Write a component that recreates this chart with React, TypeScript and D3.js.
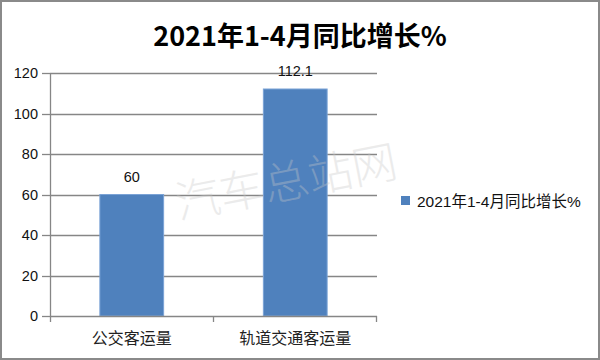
import React, { createRef, Component } from "react";
import * as d3 from "d3";

const categories: string[] = ["公交客运量", "轨道交通客运量"];
const values: number[] = [60, 112.1];
const yTicks: number[] = [0, 20, 40, 60, 80, 100, 120];
const seriesName = "2021年1-4月同比增长%";
const titleText = "2021年1-4月同比增长%";
const watermark = "汽车总站网";

const W = 600;
const H = 360;
const SANS = "'Liberation Sans', 'Noto Sans CJK SC', sans-serif";
const CJK = "'Noto Sans CJK SC', sans-serif";

class App extends Component<{}, {}> {
  ref: any;

  constructor(props: any) {
    super(props);
    this.ref = createRef();
  }

  componentDidMount() {
    const svg = d3.select(this.ref.current);
    svg.selectAll("*").remove();

    const x = d3.scaleBand<string>().domain(categories).range([50, 377]).paddingInner(0).paddingOuter(0);
    const y = d3.scaleLinear().domain([0, 120]).range([316, 73]);
    const barW = x.bandwidth() * 0.39;

    // background + frame
    svg.append("rect").attr("x", 0).attr("y", 0).attr("width", W).attr("height", H).attr("fill", "#fff");
    svg
      .append("rect")
      .attr("x", 1)
      .attr("y", 1)
      .attr("width", W - 2)
      .attr("height", H - 2)
      .attr("fill", "none")
      .attr("stroke", "#8a8a8a")
      .attr("stroke-width", 2);

    // title
    svg
      .append("text")
      .attr("x", 300)
      .attr("y", 46)
      .attr("text-anchor", "middle")
      .style("font-family", CJK)
      .style("font-weight", "bold")
      .style("font-size", "27px")
      .style("fill", "#000")
      .text(titleText);

    // gridlines
    const grid = svg.append("g");
    grid
      .selectAll("line")
      .data(yTicks.filter(t => t > 0))
      .enter()
      .append("line")
      .attr("x1", 50)
      .attr("x2", 377)
      .attr("y1", d => Math.round(y(d)) + 0.5)
      .attr("y2", d => Math.round(y(d)) + 0.5)
      .attr("stroke", "#868686")
      .attr("stroke-width", 1.3);

    // bars
    svg
      .append("g")
      .selectAll("rect")
      .data(values)
      .enter()
      .append("rect")
      .attr("x", (d, i) => (x(categories[i]) as number) + (x.bandwidth() - barW) / 2)
      .attr("y", d => y(d))
      .attr("width", barW)
      .attr("height", d => y(0) - y(d))
      .attr("fill", "#4f81bd")
      .attr("stroke", "#7ba3d6")
      .attr("stroke-width", 1);

    // value labels
    svg
      .append("g")
      .selectAll("text")
      .data(values)
      .enter()
      .append("text")
      .attr("x", (d, i) => (x(categories[i]) as number) + x.bandwidth() / 2)
      .attr("y", d => y(d) - 13)
      .attr("text-anchor", "middle")
      .style("font-family", SANS)
      .style("font-size", "14.5px")
      .style("fill", "#111")
      .text(d => String(d));

    // y axis
    const yAxis = svg.append("g");
    yAxis
      .append("line")
      .attr("x1", 50.5)
      .attr("x2", 50.5)
      .attr("y1", y(120))
      .attr("y2", y(0) + 6)
      .attr("stroke", "#868686")
      .attr("stroke-width", 1.3);
    yAxis
      .selectAll("line.tick")
      .data(yTicks)
      .enter()
      .append("line")
      .attr("class", "tick")
      .attr("x1", 42)
      .attr("x2", 50)
      .attr("y1", d => Math.round(y(d)) + 0.5)
      .attr("y2", d => Math.round(y(d)) + 0.5)
      .attr("stroke", "#868686")
      .attr("stroke-width", 1.3);
    yAxis
      .selectAll("text")
      .data(yTicks)
      .enter()
      .append("text")
      .attr("x", 38)
      .attr("y", d => y(d))
      .attr("dy", "0.36em")
      .attr("text-anchor", "end")
      .style("font-family", SANS)
      .style("font-size", "14.5px")
      .style("fill", "#111")
      .text(d => String(d));

    // x axis
    const xAxis = svg.append("g");
    xAxis
      .append("line")
      .attr("x1", 50)
      .attr("x2", 377)
      .attr("y1", Math.round(y(0)) + 0.5)
      .attr("y2", Math.round(y(0)) + 0.5)
      .attr("stroke", "#868686")
      .attr("stroke-width", 1.3);
    const bounds = categories.map(c => (x(c) as number) + x.bandwidth());
    xAxis
      .selectAll("line.tick")
      .data(bounds)
      .enter()
      .append("line")
      .attr("class", "tick")
      .attr("x1", d => Math.round(d) - 0.5)
      .attr("x2", d => Math.round(d) - 0.5)
      .attr("y1", y(0))
      .attr("y2", y(0) + 6)
      .attr("stroke", "#868686")
      .attr("stroke-width", 1.3);
    xAxis
      .selectAll("text")
      .data(categories)
      .enter()
      .append("text")
      .attr("x", d => (x(d) as number) + x.bandwidth() / 2)
      .attr("y", 344)
      .attr("text-anchor", "middle")
      .style("font-family", CJK)
      .style("font-size", "16px")
      .style("fill", "#222")
      .text(d => d);

    // legend
    const legend = svg.append("g").attr("transform", "translate(401 196)");
    legend.append("rect").attr("width", 9).attr("height", 9).attr("fill", "#4f81bd");
    legend
      .append("text")
      .attr("x", 16)
      .attr("y", 5)
      .attr("dy", "0.36em")
      .style("font-family", SANS)
      .style("font-size", "15.5px")
      .style("fill", "#111")
      .text(seriesName);

    // watermark
    svg
      .append("text")
      .attr("transform", "translate(286 182) rotate(-11)")
      .attr("text-anchor", "middle")
      .attr("dy", "0.36em")
      .style("font-family", CJK)
      .style("font-weight", 300)
      .style("font-size", "45px")
      .style("fill", "#c8c8c8")
      .style("opacity", 0.35)
      .text(watermark);
  }

  render() {
    return (
      <div style={{ position: "fixed", left: 0, top: 0, width: W, height: H }}>
        <svg ref={this.ref} width={W} height={H} style={{ display: "block" }} />
      </div>
    );
  }
}

export default App;
